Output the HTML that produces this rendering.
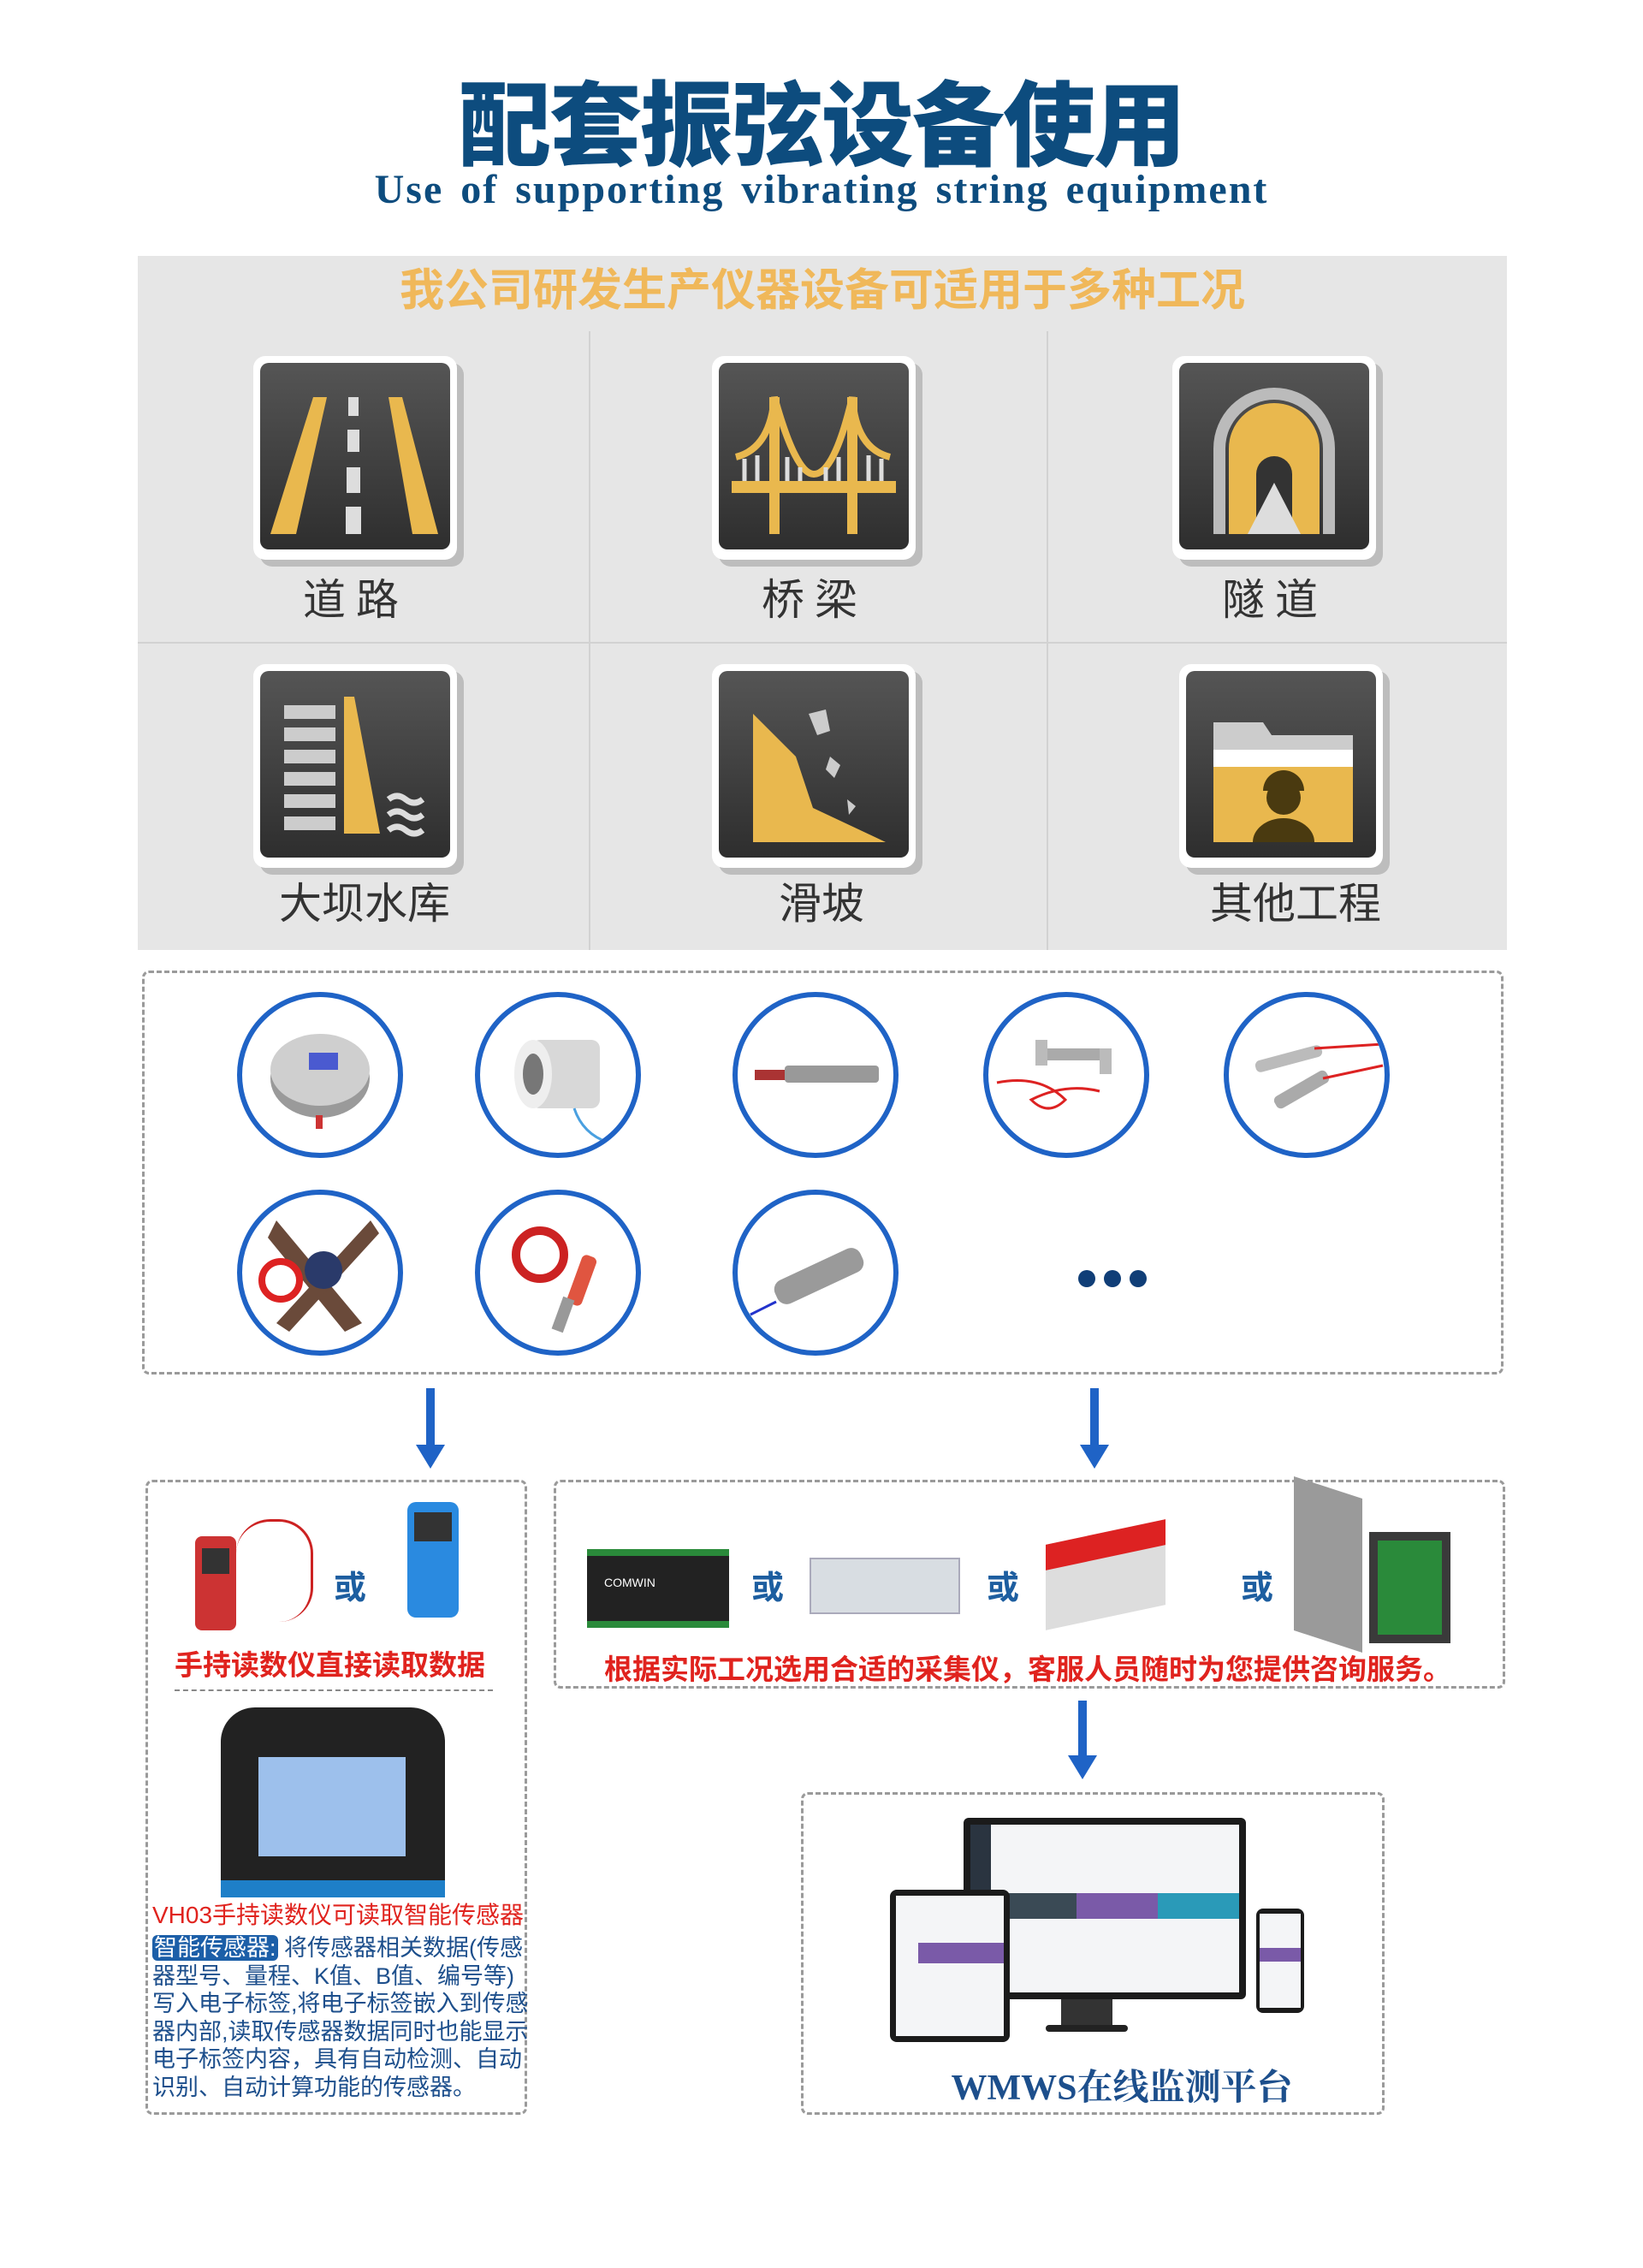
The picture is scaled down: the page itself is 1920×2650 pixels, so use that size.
<!DOCTYPE html>
<html><head><meta charset="utf-8"><style>
*{margin:0;padding:0;box-sizing:border-box}
body{width:1920px;height:2650px;background:#fff;position:relative;overflow:hidden;font-family:"Liberation Sans","Noto Sans CJK SC",sans-serif;line-height:1}
.a{position:absolute}
.t{white-space:nowrap}
.dash{position:absolute;border:3px dashed #9a9a9a;border-radius:8px}
.circ{position:absolute;width:194px;height:194px;border:6px solid #1f63c6;border-radius:50%;background:#fff;overflow:hidden}
.icon{position:absolute;width:238px;height:238px;background:#fff;border-radius:14px;box-shadow:8px 8px 0 #bdbdbd}
.icon .in{position:absolute;left:8px;top:8px;right:8px;bottom:12px;border-radius:10px;background:linear-gradient(#555,#2e2e2e)}
.lbl{position:absolute;width:300px;text-align:center;font-size:50px;color:#333}
.arrow{position:absolute;width:10px;background:#1f63c6}
.arrow:after{content:"";position:absolute;left:-12px;bottom:-26px;border-left:17px solid transparent;border-right:17px solid transparent;border-top:28px solid #1f63c6}
.or{position:absolute;font-size:38px;font-weight:bold;color:#1d5ea0}
.p{font-size:27px;color:#1d4f8c;line-height:32.5px;white-space:nowrap}
</style></head><body>

<div class="a t" style="left:0;width:1920px;top:94px;text-align:center;font-size:108px;font-weight:900;color:#0d4c7e;letter-spacing:-2px">配套振弦设备使用</div>
<div class="a t" style="left:0;width:1920px;top:198px;text-align:center;font-family:'Liberation Serif',serif;font-size:48px;font-weight:bold;color:#0d4c7e;letter-spacing:2px;word-spacing:6px">Use of supporting vibrating string equipment</div>

<div class="a" style="left:161px;top:299px;width:1600px;height:811px;background:#e6e6e6"></div>
<div class="a t" style="left:161px;width:1600px;top:314px;text-align:center;font-size:52px;font-weight:bold;color:#f0b85a">我公司研发生产仪器设备可适用于多种工况</div>
<div class="a" style="left:688px;top:387px;width:2px;height:723px;background:#d2d2d2"></div>
<div class="a" style="left:1223px;top:387px;width:2px;height:723px;background:#d2d2d2"></div>
<div class="a" style="left:161px;top:750px;width:1600px;height:2px;background:#d2d2d2"></div>

<div class="icon" style="left:296px;top:416px"><div class="in"><svg width="222" height="218" viewBox="0 0 222 218"><polygon points="62,40 78,40 42,200 12,200" fill="#e9b84e"/><polygon points="150,40 166,40 208,200 178,200" fill="#e9b84e"/><rect x="103" y="40" width="12" height="22" fill="#ddd"/><rect x="102" y="78" width="14" height="26" fill="#ddd"/><rect x="101" y="122" width="16" height="30" fill="#ddd"/><rect x="100" y="168" width="18" height="32" fill="#ddd"/></svg></div></div>
<div class="icon" style="left:832px;top:416px"><div class="in"><svg width="222" height="218" viewBox="0 0 222 218"><path d="M20,110 Q60,100 65,40 Q90,130 111,130 Q135,130 156,40 Q160,100 200,110" stroke="#e9b84e" stroke-width="8" fill="none"/><g stroke="#ddd" stroke-width="5"><line x1="30" y1="112" x2="30" y2="138"/><line x1="45" y1="108" x2="45" y2="138"/><line x1="80" y1="110" x2="80" y2="138"/><line x1="95" y1="122" x2="95" y2="138"/><line x1="125" y1="122" x2="125" y2="138"/><line x1="140" y1="110" x2="140" y2="138"/><line x1="175" y1="108" x2="175" y2="138"/><line x1="190" y1="112" x2="190" y2="138"/></g><rect x="15" y="138" width="192" height="14" fill="#e9b84e"/><rect x="59" y="40" width="12" height="160" fill="#e9b84e"/><rect x="150" y="40" width="12" height="160" fill="#e9b84e"/></svg></div></div>
<div class="icon" style="left:1370px;top:416px"><div class="in"><svg width="222" height="218" viewBox="0 0 222 218"><path d="M40,200 V100 A71,71 0 0 1 182,100 V200 H168 V100 A57,57 0 0 0 54,100 V200Z" fill="#bbb"/><path d="M58,200 V100 A53,53 0 0 1 164,100 V200Z" fill="#e9b84e"/><path d="M90,200 V130 A21,21 0 0 1 132,130 V200Z" fill="#333"/><polygon points="111,140 80,200 142,200" fill="#ddd"/></svg></div></div>
<div class="lbl t" style="left:266px;top:676px;letter-spacing:12px">道路</div>
<div class="lbl t" style="left:802px;top:676px;letter-spacing:12px">桥梁</div>
<div class="lbl t" style="left:1340px;top:676px;letter-spacing:12px">隧道</div>

<div class="icon" style="left:296px;top:776px"><div class="in"><svg width="222" height="218" viewBox="0 0 222 218"><g fill="#ccc"><rect x="28" y="40" width="60" height="16"/><rect x="28" y="66" width="60" height="16"/><rect x="28" y="92" width="60" height="16"/><rect x="28" y="118" width="60" height="16"/><rect x="28" y="144" width="60" height="16"/><rect x="28" y="170" width="60" height="16"/></g><polygon points="98,30 110,30 140,190 98,190" fill="#e9b84e"/><g stroke="#ddd" stroke-width="7" fill="none"><path d="M150,150 q10,-8 20,0 q10,8 20,0"/><path d="M150,168 q10,-8 20,0 q10,8 20,0"/><path d="M150,186 q10,-8 20,0 q10,8 20,0"/></g></svg></div></div>
<div class="icon" style="left:832px;top:776px"><div class="in"><svg width="222" height="218" viewBox="0 0 222 218"><polygon points="40,50 90,100 110,160 195,200 40,200" fill="#e9b84e"/><polygon points="105,50 125,45 130,70 115,75" fill="#ccc"/><polygon points="130,100 142,110 135,125 125,115" fill="#ccc"/><polygon points="150,150 160,158 152,168" fill="#ccc"/></svg></div></div>
<div class="icon" style="left:1378px;top:776px"><div class="in"><svg width="222" height="218" viewBox="0 0 222 218"><path d="M32,60 H90 L100,75 H195 V200 H32Z" fill="#ccc"/><rect x="32" y="92" width="163" height="20" fill="#fff"/><rect x="32" y="112" width="163" height="88" fill="#e9b84e"/><circle cx="114" cy="148" r="20" fill="#4a3a10"/><path d="M90,140 a24,24 0 0 1 48,0Z" fill="#4a3a10"/><path d="M78,200 a36,28 0 0 1 72,0Z" fill="#4a3a10"/></svg></div></div>
<div class="lbl t" style="left:276px;top:1031px">大坝水库</div>
<div class="lbl t" style="left:810px;top:1031px">滑坡</div>
<div class="lbl t" style="left:1364px;top:1031px">其他工程</div>

<div class="dash" style="left:166px;top:1134px;width:1591px;height:472px"></div>
<div class="circ" style="left:277px;top:1159px"><svg width="182" height="182"><ellipse cx="91" cy="95" rx="58" ry="46" fill="#9a9a9a"/><ellipse cx="91" cy="85" rx="58" ry="42" fill="#cfcfcf"/><rect x="78" y="65" width="34" height="20" fill="#4a5ad0"/><rect x="86" y="138" width="8" height="16" fill="#c33"/></svg></div>
<div class="circ" style="left:555px;top:1159px"><svg width="182" height="182"><rect x="60" y="50" width="80" height="80" rx="10" fill="#d8d8d8"/><ellipse cx="62" cy="90" rx="22" ry="40" fill="#eee"/><ellipse cx="62" cy="90" rx="12" ry="24" fill="#777"/><path d="M110,130 q10,30 40,40" stroke="#4aa0e0" stroke-width="3" fill="none"/></svg></div>
<div class="circ" style="left:856px;top:1159px"><svg width="182" height="182"><rect x="20" y="85" width="50" height="12" fill="#a33"/><rect x="55" y="80" width="110" height="20" rx="4" fill="#999"/></svg></div>
<div class="circ" style="left:1149px;top:1159px"><svg width="182" height="182"><rect x="60" y="60" width="80" height="14" fill="#aaa"/><rect x="55" y="50" width="14" height="30" fill="#bbb"/><rect x="130" y="60" width="14" height="30" fill="#bbb"/><path d="M10,100 q50,-10 80,20 q-20,20 -40,0 q40,-20 80,-10" stroke="#d22" stroke-width="3" fill="none"/></svg></div>
<div class="circ" style="left:1430px;top:1159px"><svg width="182" height="182"><rect x="30" y="65" width="80" height="14" rx="6" fill="#bbb" transform="rotate(-15 70 72)"/><rect x="50" y="100" width="70" height="16" rx="6" fill="#aaa" transform="rotate(-30 85 108)"/><path d="M100,60 L180,55 M110,95 L180,80" stroke="#d22" stroke-width="3"/></svg></div>
<div class="circ" style="left:277px;top:1390px"><svg width="182" height="182"><polygon points="40,30 140,150 120,160 30,50" fill="#6a4a3a"/><polygon points="150,30 40,150 55,160 160,45" fill="#6a4a3a"/><circle cx="95" cy="88" r="22" fill="#2a3a6a"/><circle cx="45" cy="100" r="22" fill="none" stroke="#d22" stroke-width="8"/></svg></div>
<div class="circ" style="left:555px;top:1390px"><svg width="182" height="182"><circle cx="70" cy="70" r="28" fill="none" stroke="#c22" stroke-width="10"/><rect x="110" y="70" width="18" height="60" rx="6" fill="#e05540" transform="rotate(20 119 100)"/><rect x="90" y="120" width="14" height="40" fill="#999" transform="rotate(20 97 140)"/></svg></div>
<div class="circ" style="left:856px;top:1390px"><svg width="182" height="182"><rect x="40" y="80" width="110" height="30" rx="12" fill="#9a9a9a" transform="rotate(-25 95 95)"/><path d="M45,125 L15,140" stroke="#23c" stroke-width="3"/></svg></div>
<div class="a" style="left:1260px;top:1484px;width:120px;height:20px"><span class="a" style="left:0;width:20px;height:20px;border-radius:50%;background:#103e77"></span><span class="a" style="left:30px;width:20px;height:20px;border-radius:50%;background:#103e77"></span><span class="a" style="left:60px;width:20px;height:20px;border-radius:50%;background:#103e77"></span></div>

<div class="arrow" style="left:498px;top:1622px;height:68px"></div>
<div class="arrow" style="left:1274px;top:1622px;height:68px"></div>

<div class="dash" style="left:170px;top:1729px;width:446px;height:742px"></div>
<div class="a" style="left:228px;top:1795px;width:48px;height:110px;background:#c33;border-radius:8px"><div class="a" style="left:8px;top:14px;width:32px;height:30px;background:#333"></div></div>
<div class="a" style="left:276px;top:1775px;width:90px;height:120px;border:3px solid #c22;border-radius:40px;border-left:none;border-bottom:none"></div>
<div class="or t" style="left:390px;top:1837px">或</div>
<div class="a" style="left:476px;top:1755px;width:60px;height:135px;background:#2a8ae0;border-radius:10px"><div class="a" style="left:8px;top:12px;width:44px;height:34px;background:#333"></div></div>
<div class="a t" style="left:204px;top:1929px;font-size:33px;font-weight:bold;color:#e0231e">手持读数仪直接读取数据</div>
<div class="a" style="left:204px;top:1974px;width:372px;border-top:2px dashed #888"></div>
<div class="a" style="left:258px;top:1995px;width:262px;height:222px;background:#222;border-radius:40px 40px 0 0"><div class="a" style="left:44px;top:58px;width:172px;height:116px;background:#9dc0ec"></div><div class="a" style="left:0;bottom:0;width:262px;height:20px;background:#1e7fc8"></div></div>
<div class="a t" style="left:178px;top:2224px;font-size:28px;color:#e0231e">VH03手持读数仪可读取智能传感器</div>
<div class="a p" style="left:178px;top:2260px">
<span style="background:#1c5fa8;color:#fff;border-radius:6px;padding:0 2px">智能传感器:</span> 将传感器相关数据(传感<br>器型号、量程、K值、B值、编号等)<br>写入电子标签,将电子标签嵌入到传感<br>器内部,读取传感器数据同时也能显示<br>电子标签内容，具有自动检测、自动<br>识别、自动计算功能的传感器。</div>

<div class="dash" style="left:647px;top:1729px;width:1112px;height:244px"></div>
<div class="a" style="left:686px;top:1810px;width:166px;height:92px;background:#222;border-top:8px solid #2a8a3a;border-bottom:8px solid #2a8a3a"><div class="a t" style="left:20px;top:24px;color:#fff;font-size:14px">COMWIN</div></div>
<div class="or t" style="left:878px;top:1837px">或</div>
<div class="a" style="left:946px;top:1820px;width:176px;height:66px;background:#d8dde2;border:2px solid #aab"></div>
<div class="or t" style="left:1153px;top:1837px">或</div>
<div class="a" style="left:1222px;top:1790px;width:140px;height:100px;background:#ddd;transform:skewY(-12deg)"><div class="a" style="left:0;top:0;width:140px;height:30px;background:#d22"></div></div>
<div class="or t" style="left:1450px;top:1837px">或</div>
<div class="a" style="left:1512px;top:1738px;width:80px;height:180px;background:#9a9a9a;transform:skewY(18deg)"></div>
<div class="a" style="left:1600px;top:1790px;width:95px;height:130px;background:#3a3a3a"><div class="a" style="left:10px;top:10px;width:75px;height:110px;background:#2a8a3a"></div></div>
<div class="a t" style="left:706px;top:1934px;font-size:33px;font-weight:bold;color:#e0231e">根据实际工况选用合适的采集仪，客服人员随时为您提供咨询服务。</div>

<div class="arrow" style="left:1260px;top:1987px;height:66px"></div>

<div class="dash" style="left:936px;top:2094px;width:682px;height:377px"></div>
<div class="a" style="left:1126px;top:2124px;width:330px;height:212px;background:#1b1b1b;border-radius:6px"><div class="a" style="left:8px;top:8px;width:314px;height:196px;background:#f4f5f7"><div class="a" style="left:0;top:0;width:24px;height:196px;background:#2a3440"></div><div class="a" style="left:24px;top:80px;width:100px;height:30px;background:#3a4a55"></div><div class="a" style="left:124px;top:80px;width:95px;height:30px;background:#7a5aa8"></div><div class="a" style="left:219px;top:80px;width:95px;height:30px;background:#2a9ab8"></div></div></div>
<div class="a" style="left:1240px;top:2336px;width:60px;height:30px;background:#333"></div>
<div class="a" style="left:1222px;top:2366px;width:96px;height:8px;background:#222;border-radius:4px"></div>
<div class="a" style="left:1040px;top:2208px;width:140px;height:178px;background:#1b1b1b;border-radius:8px"><div class="a" style="left:7px;top:7px;width:126px;height:164px;background:#f4f5f7"><div class="a" style="left:26px;top:55px;width:100px;height:24px;background:#7a5aa8"></div></div></div>
<div class="a" style="left:1468px;top:2230px;width:56px;height:122px;background:#1b1b1b;border-radius:8px"><div class="a" style="left:4px;top:6px;width:48px;height:110px;background:#f4f5f7"><div class="a" style="left:0;top:40px;width:48px;height:16px;background:#7a5aa8"></div></div></div>
<div class="a t" style="left:936px;width:750px;top:2419px;text-align:center;font-family:'Liberation Serif','Noto Serif CJK SC',serif;font-size:42px;font-weight:bold;color:#1d4f8c">WMWS在线监测平台</div>

</body></html>
